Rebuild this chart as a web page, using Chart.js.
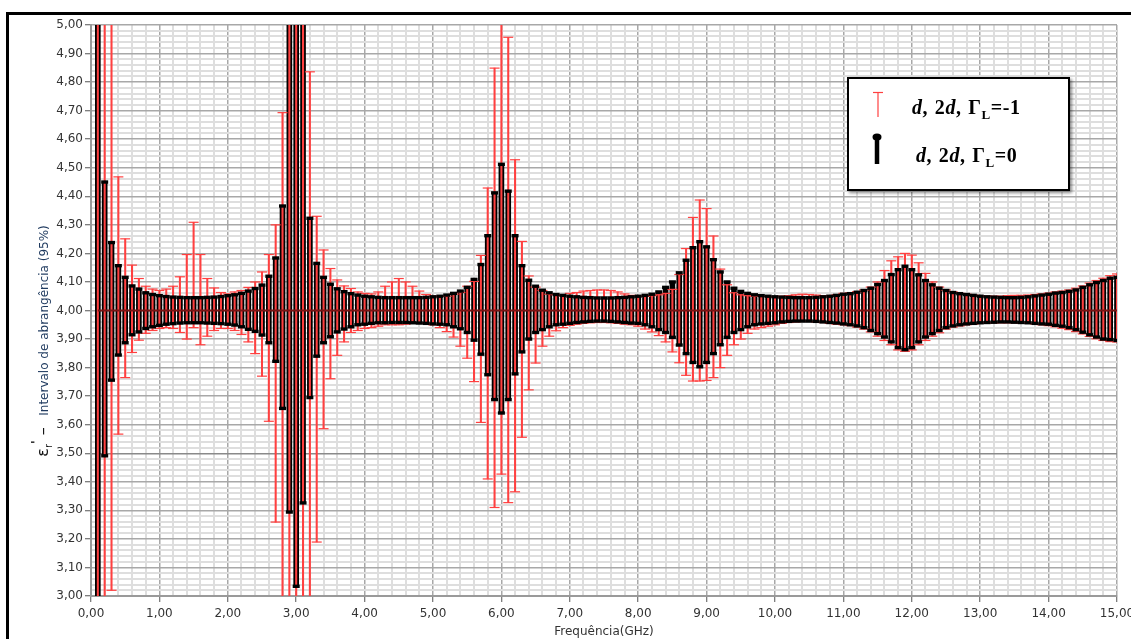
<!DOCTYPE html>
<html>
<head>
<meta charset="utf-8">
<script src="https://cdn.jsdelivr.net/npm/chart.js@4.4.1/dist/chart.umd.min.js"></script>
<style>
  html, body { margin:0; padding:0; width:1131px; height:639px; overflow:hidden; background:#fff; }
  #wrap { position:absolute; left:0; top:0; width:1140px; height:639px; }
  canvas { position:absolute; left:0; top:0; }
  .frame { position:absolute; left:6px; top:12px; width:1200px; height:700px; border:3px solid #000; pointer-events:none; }
  .ytitle { position:absolute; left:41px; top:341px; transform:translate(-50%,-50%) rotate(-90deg); white-space:nowrap;
            font-family:"DejaVu Sans", sans-serif; font-size:12px; }
  .ytitle .eps { color:#111; font-size:16px; }
  .ytitle .sub { font-size:10px; vertical-align:-4px; }
  .ytitle .sup { font-size:12px; vertical-align:8px; font-weight:bold; }
  .ytitle .blue { color:#1f3a5f; }
  .legend { position:absolute; left:847px; top:77px; width:223px; height:114px; box-sizing:border-box;
            border:2px solid #000; background:#fff; box-shadow:2px 2px 3px rgba(0,0,0,0.45); }
  .ltxt { position:absolute; font-family:"Liberation Serif", serif; font-weight:bold; font-size:20px; line-height:20px;
          letter-spacing:0.6px; word-spacing:1px; color:#000; white-space:nowrap; }
  .ltxt sub { font-size:13px; vertical-align:-5px; line-height:0; }
</style>
</head>
<body>
<div id="wrap"><canvas id="c" width="1140" height="639"></canvas></div>
<div class="frame"></div>
<div class="ytitle"><span class="eps">ε<span class="sub">r</span><span class="sup">'</span> –</span>&nbsp;&nbsp;&nbsp;<span class="blue">Intervalo de abrangência (95%)</span></div>
<div class="legend"></div>
<svg style="position:absolute;left:866px;top:88px" width="24" height="80">
  <line x1="7" y1="4.5" x2="17" y2="4.5" stroke="#ff4040" stroke-width="1.2"/>
  <line x1="12" y1="4.5" x2="12" y2="29" stroke="#ff4040" stroke-width="1.2"/>
  <ellipse cx="11" cy="49" rx="4.5" ry="3.5" fill="#000"/>
  <line x1="11" y1="49" x2="11" y2="76" stroke="#000" stroke-width="4.5"/>
</svg>
<div class="ltxt" style="left:912px;top:97px"><i>d</i>, 2<i>d</i>, Γ<sub>L</sub>=-1</div>
<div class="ltxt" style="left:916px;top:145px"><i>d</i>, 2<i>d</i>, Γ<sub>L</sub>=0</div>
<script>
// Frequencies (GHz)
const freq = [
 0.1,0.2,0.3,0.4,0.5,0.6,0.7,0.8,0.9,1.0,
 1.1,1.2,1.3,1.4,1.5,1.6,1.7,1.8,1.9,2.0,
 2.1,2.2,2.3,2.4,2.5,2.6,2.7,2.8,2.9,3.0,
 3.1,3.2,3.3,3.4,3.5,3.6,3.7,3.8,3.9,4.0,
 4.1,4.2,4.3,4.4,4.5,4.6,4.7,4.8,4.9,5.0,
 5.1,5.2,5.3,5.4,5.5,5.6,5.7,5.8,5.9,6.0,
 6.1,6.2,6.3,6.4,6.5,6.6,6.7,6.8,6.9,7.0,
 7.1,7.2,7.3,7.4,7.5,7.6,7.7,7.8,7.9,8.0,
 8.1,8.2,8.3,8.4,8.5,8.6,8.7,8.8,8.9,9.0,
 9.1,9.2,9.3,9.4,9.5,9.6,9.7,9.8,9.9,10.0,
 10.1,10.2,10.3,10.4,10.5,10.6,10.7,10.8,10.9,11.0,
 11.1,11.2,11.3,11.4,11.5,11.6,11.7,11.8,11.9,12.0,
 12.1,12.2,12.3,12.4,12.5,12.6,12.7,12.8,12.9,13.0,
 13.1,13.2,13.3,13.4,13.5,13.6,13.7,13.8,13.9,14.0,
 14.1,14.2,14.3,14.4,14.5,14.6,14.7,14.8,14.9,15.0];

// d, 2d, ΓL=0 (black) : upper / lower limits
const blackHigh = [
 5.60,4.450,4.238,4.157,4.116,4.086,4.075,4.062,4.056,4.052,
 4.049,4.047,4.046,4.045,4.045,4.045,4.046,4.047,4.049,4.052,
 4.055,4.060,4.068,4.077,4.089,4.120,4.184,4.366,5.60,5.60,
 5.60,4.323,4.165,4.116,4.092,4.076,4.066,4.059,4.054,4.050,
 4.048,4.046,4.045,4.045,4.045,4.045,4.045,4.045,4.046,4.048,
 4.050,4.054,4.060,4.068,4.081,4.109,4.161,4.262,4.412,4.512,
 4.418,4.262,4.157,4.106,4.085,4.071,4.062,4.056,4.053,4.050,
 4.048,4.046,4.045,4.044,4.044,4.044,4.045,4.046,4.048,4.050,
 4.053,4.057,4.065,4.081,4.100,4.132,4.176,4.220,4.241,4.223,
 4.178,4.135,4.100,4.078,4.067,4.060,4.055,4.052,4.050,4.048,
 4.047,4.046,4.045,4.045,4.045,4.046,4.048,4.050,4.053,4.057,
 4.059,4.064,4.070,4.078,4.091,4.105,4.126,4.143,4.155,4.143,
 4.125,4.105,4.090,4.078,4.070,4.063,4.059,4.056,4.053,4.050,
 4.048,4.047,4.046,4.045,4.045,4.046,4.048,4.051,4.054,4.057,
 4.061,4.063,4.067,4.072,4.081,4.090,4.098,4.105,4.113,4.116];
const blackLow = [
 2.40,3.491,3.756,3.844,3.887,3.915,3.925,3.937,3.943,3.948,
 3.952,3.954,3.956,3.957,3.957,3.957,3.956,3.955,3.954,3.952,
 3.949,3.943,3.934,3.927,3.914,3.887,3.822,3.657,3.294,3.034,
 3.326,3.695,3.840,3.887,3.908,3.925,3.935,3.943,3.950,3.952,
 3.955,3.957,3.957,3.958,3.958,3.958,3.957,3.956,3.955,3.953,
 3.952,3.950,3.943,3.936,3.923,3.896,3.847,3.775,3.688,3.641,
 3.688,3.778,3.855,3.900,3.923,3.933,3.943,3.950,3.952,3.955,
 3.958,3.960,3.962,3.963,3.963,3.962,3.960,3.958,3.956,3.955,
 3.950,3.943,3.933,3.923,3.906,3.879,3.849,3.818,3.803,3.818,
 3.849,3.880,3.906,3.923,3.933,3.943,3.950,3.953,3.955,3.957,
 3.960,3.962,3.963,3.963,3.963,3.962,3.960,3.958,3.956,3.953,
 3.950,3.946,3.940,3.930,3.919,3.907,3.890,3.870,3.863,3.870,
 3.890,3.907,3.919,3.930,3.940,3.946,3.950,3.953,3.955,3.957,
 3.958,3.959,3.960,3.960,3.959,3.958,3.957,3.955,3.953,3.952,
 3.948,3.945,3.940,3.933,3.924,3.915,3.907,3.900,3.898,3.895];

// d, 2d, ΓL=-1 (red) : upper / lower limits
const redHigh = [
 5.60,5.60,5.60,4.468,4.251,4.159,4.112,4.085,4.075,4.070,
 4.075,4.085,4.118,4.196,4.309,4.196,4.112,4.079,4.063,4.058,
 4.065,4.070,4.081,4.100,4.135,4.196,4.300,4.693,5.60,5.60,
 5.60,4.836,4.330,4.212,4.147,4.107,4.086,4.077,4.065,4.060,
 4.058,4.065,4.085,4.100,4.112,4.100,4.085,4.068,4.056,4.050,
 4.050,4.050,4.057,4.063,4.085,4.102,4.193,4.429,4.849,5.60,
 4.957,4.528,4.242,4.121,4.082,4.070,4.057,4.055,4.052,4.060,
 4.063,4.068,4.070,4.072,4.072,4.070,4.065,4.058,4.053,4.050,
 4.050,4.052,4.055,4.060,4.074,4.126,4.217,4.326,4.387,4.357,
 4.261,4.145,4.090,4.062,4.055,4.052,4.050,4.050,4.049,4.048,
 4.050,4.052,4.055,4.057,4.056,4.054,4.052,4.052,4.055,4.060,
 4.062,4.066,4.072,4.082,4.100,4.140,4.174,4.188,4.200,4.194,
 4.167,4.130,4.100,4.082,4.072,4.065,4.060,4.057,4.054,4.052,
 4.050,4.050,4.050,4.052,4.053,4.053,4.054,4.056,4.058,4.061,
 4.065,4.068,4.072,4.078,4.086,4.096,4.105,4.113,4.122,4.128];
const redLow = [
 2.40,2.40,3.020,3.567,3.765,3.853,3.896,3.920,3.930,3.937,
 3.940,3.937,3.923,3.900,3.940,3.880,3.910,3.930,3.937,3.937,
 3.930,3.916,3.890,3.849,3.770,3.612,3.259,2.40,2.40,2.40,
 2.40,2.40,3.189,3.586,3.761,3.843,3.890,3.923,3.930,3.937,
 3.940,3.945,3.950,3.950,3.950,3.952,3.955,3.955,3.955,3.950,
 3.940,3.926,3.907,3.875,3.833,3.751,3.608,3.410,3.310,3.427,
 3.327,3.365,3.556,3.722,3.816,3.875,3.910,3.929,3.940,3.948,
 3.952,3.955,3.957,3.958,3.958,3.957,3.955,3.952,3.950,3.945,
 3.935,3.925,3.912,3.890,3.855,3.817,3.773,3.753,3.753,3.755,
 3.765,3.800,3.843,3.880,3.900,3.920,3.935,3.940,3.945,3.950,
 3.955,3.958,3.960,3.962,3.962,3.960,3.958,3.955,3.952,3.950,
 3.947,3.942,3.935,3.925,3.910,3.895,3.880,3.862,3.857,3.862,
 3.880,3.895,3.910,3.922,3.935,3.942,3.946,3.950,3.952,3.955,
 3.956,3.957,3.957,3.957,3.957,3.956,3.955,3.953,3.950,3.947,
 3.943,3.938,3.933,3.926,3.918,3.909,3.901,3.895,3.891,3.890];

// reference line (nominal value)
const centerFreq = [0.1, 15.0];
const centerValue = [4.00, 4.00];

const RED = '#ff4040';
const fmt = v => v.toFixed(2).replace('.', ',');
const isMajorY = v => Math.abs(v*10 - Math.round(v*10)) < 1e-6;
const isMajorX = v => Math.abs(v - Math.round(v)) < 1e-6;

const pts = (arr) => freq.map((f,i) => ({x:f, y:arr[i]}));

new Chart(document.getElementById('c'), {
  type: 'bar',
  data: {
    datasets: [
      { type:'bar', label:'black', data: freq.map((f,i)=>({x:f, y:[blackLow[i], blackHigh[i]]})),
        backgroundColor:'#000', barThickness:5, grouped:false, order:6 },
      { type:'bar', label:'red', data: freq.map((f,i)=>({x:f, y:[redLow[i], redHigh[i]]})),
        backgroundColor:RED, barThickness:1.4, grouped:false, order:4 },
      { type:'line', label:'center', data: centerFreq.map((f,i)=>({x:f,y:centerValue[i]})),
        borderColor:'#7a1515', borderWidth:2, pointRadius:0, order:3 },
      { type:'scatter', label:'redHi', data: pts(redHigh), pointStyle:'line', radius:5,
        borderColor:RED, backgroundColor:RED, borderWidth:1.2, order:2 },
      { type:'scatter', label:'redLo', data: pts(redLow), pointStyle:'line', radius:5,
        borderColor:RED, backgroundColor:RED, borderWidth:1.2, order:2 },
      { type:'scatter', label:'blackHi', data: pts(blackHigh), pointStyle:'line', radius:3.5,
        borderColor:'#000', backgroundColor:'#000', borderWidth:3.4, order:1 },
      { type:'scatter', label:'blackLo', data: pts(blackLow), pointStyle:'line', radius:3.5,
        borderColor:'#000', backgroundColor:'#000', borderWidth:3.4, order:1 }
    ]
  },
  options: {
    responsive:false, animation:false, devicePixelRatio:1,
    layout:{ padding:{ left:0, top:25, right:23, bottom:0 } },
    plugins:{ legend:{display:false}, tooltip:{enabled:false} },
    scales:{
      x:{ type:'linear', min:0, max:15, offset:false,
          afterFit:(s)=>{ s.height = 43; },
          ticks:{ stepSize:0.2, autoSkip:false, maxRotation:0, padding:5, color:'#333',
                  font:{family:'DejaVu Sans', size:12},
                  callback:(v)=> isMajorX(v) ? fmt(v) : '' },
          grid:{ offset:false, drawTicks:true, tickLength:6,
                 color:(c)=> isMajorX(c.tick.value) ? '#a8a8a8' : '#dedede',
                 lineWidth:(c)=> isMajorX(c.tick.value) ? 1.5 : 2,
                 tickColor:(c)=> isMajorX(c.tick.value) ? '#555' : 'rgba(0,0,0,0)', tickWidth:1 },
          border:{ display:true, color:'#9a9a9a', width:2 },
          title:{ display:true, text:'Frequência(GHz)', color:'#333', padding:0,
                  font:{family:'DejaVu Sans', size:12} } },
      y:{ type:'linear', min:3, max:5,
          afterFit:(s)=>{ s.width = 91; },
          ticks:{ stepSize:0.02, autoSkip:false, padding:2, color:'#333',
                  font:{family:'DejaVu Sans', size:12},
                  callback:(v)=> isMajorY(v) ? fmt(v) : '' },
          grid:{ drawTicks:true, tickLength:6,
                 color:(c)=> Math.abs(c.tick.value-3.5)<1e-6 ? '#8a8a8a' : (isMajorY(c.tick.value) ? '#a8a8a8' : '#dedede'),
                 lineWidth:(c)=> isMajorY(c.tick.value) ? 1.5 : 2,
                 tickColor:(c)=> isMajorY(c.tick.value) ? '#555' : 'rgba(0,0,0,0)', tickWidth:1 },
          border:{ display:true, color:'#9a9a9a', width:2 } }
    }
  }
});
</script>
</body>
</html>
